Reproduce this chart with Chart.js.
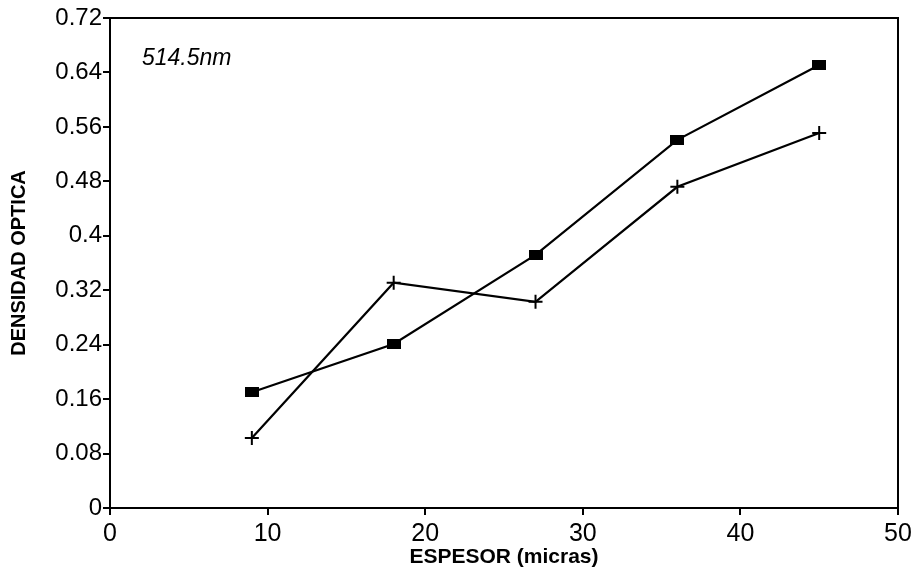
<!DOCTYPE html>
<html>
<head>
<meta charset="utf-8">
<script src="https://cdn.jsdelivr.net/npm/chart.js@4/dist/chart.umd.min.js"></script>
<style>
  html, body { margin: 0; padding: 0; background: #fff; }
  #wrap { width: 917px; height: 570px; position: relative; }
</style>
</head>
<body>
<div id="wrap"><canvas id="c" width="917" height="570"></canvas></div>
<script>
const espesor = [9, 18, 27, 36, 45];
const serieCuadros = [0.170, 0.241, 0.372, 0.541, 0.651];
const serieCruces = [0.103, 0.331, 0.303, 0.472, 0.551];
const xTicks = [0, 10, 20, 30, 40, 50];
const yTicks = [0, 0.08, 0.16, 0.24, 0.32, 0.4, 0.48, 0.56, 0.64, 0.72];
const etiqueta = '514.5nm';

const sq = document.createElement('canvas');
sq.width = 14; sq.height = 10;
const sctx = sq.getContext('2d');
sctx.fillStyle = '#000';
sctx.fillRect(0, 0, 14, 10);

const FONT = "'Liberation Sans', Arial, Helvetica, sans-serif";

const framePlugin = {
  id: 'frame',
  afterDatasetsDraw(chart) {
    const { ctx, chartArea: a } = chart;
    ctx.save();
    ctx.strokeStyle = '#000';
    ctx.lineWidth = 2;
    ctx.beginPath();
    ctx.moveTo(a.left, a.top);
    ctx.lineTo(a.right, a.top);
    ctx.lineTo(a.right, a.bottom);
    ctx.stroke();
    ctx.font = 'italic 23px ' + FONT;
    ctx.fillStyle = '#000';
    ctx.textBaseline = 'middle';
    ctx.textAlign = 'left';
    ctx.fillText(etiqueta, a.left + 32, a.top + 41);
    ctx.restore();
  }
};

new Chart(document.getElementById('c'), {
  type: 'scatter',
  data: {
    datasets: [
      {
        label: 'cuadros',
        data: espesor.map((x, i) => ({ x, y: serieCuadros[i] })),
        showLine: true,
        borderColor: '#000',
        backgroundColor: '#000',
        borderWidth: 2.2,
        pointStyle: sq,
        pointRadius: 7,
        tension: 0
      },
      {
        label: 'cruces',
        data: espesor.map((x, i) => ({ x, y: serieCruces[i] })),
        showLine: true,
        borderColor: '#000',
        backgroundColor: '#000',
        borderWidth: 2.2,
        pointStyle: 'cross',
        pointRadius: 7,
        pointBorderWidth: 2,
        tension: 0
      }
    ]
  },
  options: {
    responsive: false,
    animation: false,
    devicePixelRatio: 1,
    layout: { padding: { top: 18, right: 19, left: 0, bottom: 0 } },
    plugins: { legend: { display: false }, tooltip: { enabled: false } },
    scales: {
      x: {
        type: 'linear',
        min: 0, max: 50,
        afterBuildTicks(s) { s.ticks = xTicks.map(v => ({ value: v })); },
        afterFit(s) { s.height = 62; },
        border: { display: true, color: '#000', width: 2 },
        grid: { drawOnChartArea: false, drawTicks: true, tickLength: 7, color: '#000', lineWidth: 2 },
        ticks: { color: '#000', padding: 4, font: { family: FONT, size: 25 }, maxRotation: 0,
                 callback: v => String(v) },
        title: { display: true, text: 'ESPESOR (micras)', color: '#000',
                 font: { family: FONT, size: 21, weight: 'bold' }, padding: { top: 0, bottom: 0 } }
      },
      y: {
        type: 'linear',
        min: 0, max: 0.72,
        afterBuildTicks(s) { s.ticks = yTicks.map(v => ({ value: v })); },
        afterFit(s) { s.width = 110; },
        border: { display: true, color: '#000', width: 2 },
        grid: { drawOnChartArea: false, drawTicks: true, tickLength: 7, color: '#000', lineWidth: 2 },
        ticks: { color: '#000', padding: 1, font: { family: FONT, size: 24 },
                 callback: v => String(Math.round(v * 100) / 100) },
        title: { display: true, text: 'DENSIDAD OPTICA', color: '#000',
                 font: { family: FONT, size: 20, weight: 'bold' }, padding: { top: 7, bottom: 0 } }
      }
    }
  },
  plugins: [framePlugin]
});
</script>
</body>
</html>
